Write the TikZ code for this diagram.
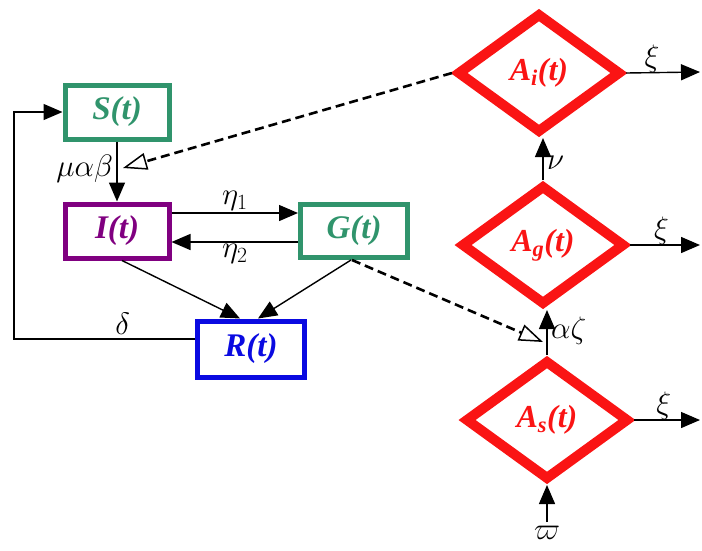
\RequirePackage{fix-cm}
\documentclass[tikz,border=0pt]{standalone}
\usepackage{fontspec}
\setmainfont{Liberation Serif}
\usetikzlibrary{arrows.meta,shapes.geometric,calc}

\definecolor{sgreen}{RGB}{48,148,108}
\definecolor{ipurple}{RGB}{128,0,128}
\definecolor{rblue}{RGB}{10,10,225}
\definecolor{ared}{RGB}{250,20,20}

\tikzset{
  box/.style={draw, line width=5pt, minimum width=104pt, minimum height=54pt, inner sep=0pt,
    font=\fontsize{33}{35}\selectfont\bfseries\itshape},
  comp/.style={diamond, draw=ared, text=ared, line width=10pt, minimum width=164pt, minimum height=120pt,
    inner sep=0pt, font=\fontsize{32}{34}\selectfont\bfseries\itshape},
  arr/.style={line width=1.4pt, -{Triangle[length=19pt,width=16pt]}},
  dasharr/.style={line width=2.6pt, dash pattern=on 9pt off 5pt, -{Triangle[open,length=24pt,width=17pt,line width=1.5pt]}},
  lbl/.style={font=\fontsize{31}{33}\selectfont}
}

\begin{document}
\begin{tikzpicture}[x=1pt,y=-1pt]
				\useasboundingbox (0,0) rectangle (702,550);
				% compartments
				\node[box, draw=sgreen, text=sgreen] (S) at (117,112) {S(t)};
				\node[box, draw=ipurple, text=ipurple] (I) at (117,231) {I(t)};
				\node[box, draw=sgreen, text=sgreen, minimum width=107pt, minimum height=53pt] (G) at (354,231) {G(t)};
				\node[box, draw=rblue, text=rblue, minimum width=107pt, minimum height=56pt] (R) at (251,349) {R(t)};
				\node[comp] (Ai) at (539,73) {A\textsubscript{i}(t)};
				\node[comp] (Ag) at (543,245) {A\textsubscript{g}(t)};
				\node[comp] (As) at (547,420) {A\textsubscript{s}(t)};
				\coordinate (hitS) at (123,168);
				\coordinate (hitA) at (543,342);
				\coordinate (src) at (547,522);
				\coordinate (outI) at (700,72);
				\coordinate (outG) at (700,245);
				\coordinate (outS) at (700,420);
				% flows
				\draw[arr] (S) -- node[lbl, left, pos=0.45] {$\mu\alpha\beta$} (I);
				\draw[arr] ([yshift=18pt]I.east) -- node[lbl, above=-2pt] {$\eta_1$} ([yshift=18pt]G.west);
				\draw[arr] ([yshift=-11pt]G.west) -- node[lbl, below=-2pt] {$\eta_2$} ([yshift=-11pt]I.east);
				\draw[arr] ([xshift=5pt]I.south) -- ([xshift=-11pt]R.north);
				\draw[arr] ([xshift=-3pt]G.south) -- ([xshift=7pt]R.north);
				\draw[arr] ([yshift=10pt]R.west) -- node[lbl, above=0pt, pos=0.4] {$\delta$} ++(-181pt,0) |- (S.west);
				\draw[arr] (As.north) -- node[lbl, right, pos=0.55] {$\alpha\zeta$} (As.north |- Ag.south);
				\draw[arr] (Ag.north) -- node[lbl, right, pos=0.4] {$\nu$} (Ag.north |- Ai.south);
				\draw[arr] (src) -- (As.south);
				\node[lbl, below=1pt] (w) at (src) {$\varpi$};
				\draw[arr] (Ai.east) -- node[lbl, above=-4pt, pos=0.35] {$\xi$} (outI);
				\draw[arr] (Ag.east) -- node[lbl, above=-4pt, pos=0.45] {$\xi$} (outG);
				\draw[arr] (As.east) -- node[lbl, above=-4pt, pos=0.45] {$\xi$} (outS);
				% dashed influences
				\draw[dasharr] (Ai.west) -- (hitS);
				\draw[dasharr] ([xshift=-2pt]G.south) -- (hitA);
			\end{tikzpicture}
\end{document}
